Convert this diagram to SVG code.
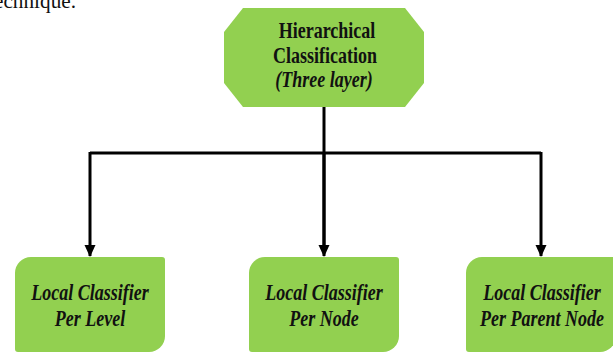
<svg xmlns="http://www.w3.org/2000/svg" width="613" height="354" viewBox="0 0 613 354">
<style>
.node{fill:#92D050;}
.t{font-family:"Liberation Serif","Times New Roman",serif;font-weight:bold;font-size:18px;fill:#111;text-anchor:middle;}
.it{font-style:italic;}
.edge{stroke:#000;stroke-width:3;fill:none;}
.cap{font-family:"Liberation Serif","Times New Roman",serif;font-size:21px;fill:#111;}
</style>
<defs>
<marker id="arr" markerWidth="12" markerHeight="12" refX="11" refY="6" orient="auto" markerUnits="userSpaceOnUse">
<path d="M0,0.5 L12,6 L0,11.5 Z" fill="#000"/>
</marker>
<path id="box" d="M0,16 A16,16 0 0 1 16,0 L147,0 A3,3 0 0 1 150,3 L150,79 A16,16 0 0 1 134,95 L3,95 A3,3 0 0 1 0,92 Z"/>
</defs>
<rect width="613" height="354" fill="#fff"/>
<text class="cap" x="-6" y="8" textLength="82" lengthAdjust="spacingAndGlyphs">echnique.</text>
<g id="connectors">
<path class="edge" d="M324,107 L324,246"/>
<path class="edge" d="M90,153 L541,153"/>
<path class="edge" d="M90,152 L90,256" marker-end="url(#arr)"/>
<path class="edge" d="M324,152 L324,256" marker-end="url(#arr)"/>
<path class="edge" d="M541,152 L541,256" marker-end="url(#arr)"/>
</g>
<g id="root">
<polygon class="node" points="243,8 405,8 424,32 424,83 405,107 243,107 224,83 224,32"/>
<text class="t" transform="translate(327,38) scale(1,1.25)">Hierarchical</text>
<text class="t" transform="translate(325,63) scale(1,1.25)">Classification</text>
<text class="t it" transform="translate(324,87) scale(1,1.25)">(Three layer)</text>
</g>
<g id="lcl">
<use href="#box" class="node" x="15" y="257"/>
<text class="t it" transform="translate(90,300) scale(1,1.3)">Local Classifier</text>
<text class="t it" transform="translate(90,326) scale(1,1.3)">Per Level</text>
</g>
<g id="lcn">
<use href="#box" class="node" x="249" y="257"/>
<text class="t it" transform="translate(324,300) scale(1,1.3)">Local Classifier</text>
<text class="t it" transform="translate(324,326) scale(1,1.3)">Per Node</text>
</g>
<g id="lcpn">
<use href="#box" class="node" x="466" y="257"/>
<text class="t it" transform="translate(542,300) scale(1,1.3)">Local Classifier</text>
<text class="t it" transform="translate(542,326) scale(1,1.3)">Per Parent Node</text>
</g>
</svg>
